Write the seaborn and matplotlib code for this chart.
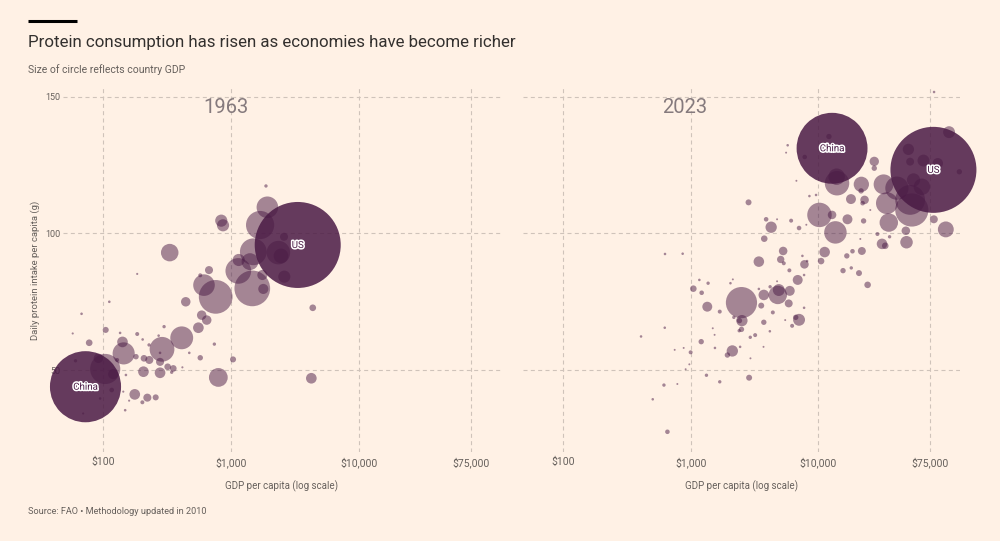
import numpy as np
import pandas as pd
import matplotlib
matplotlib.use("Agg")
import matplotlib.pyplot as plt
import seaborn as sns
from matplotlib import patheffects as pe
from matplotlib.lines import Line2D
from matplotlib.ticker import NullLocator

# ---------------- data ----------------
hl_names = ["China", "US"]

# 1963 highlighted countries
hl_gdp_pc_1963 = [73, 3319]
hl_protein_1963 = [43.9, 95.8]
hl_gdp_1963 = [445, 651]

# 2023 highlighted countries
hl_gdp_pc_2023 = [12800, 79600]
hl_protein_2023 = [131.2, 123.3]
hl_gdp_2023 = [18350, 27000]

# 1963 other countries
gdp_pc_1963 = [1875, 1923, 1687, 839, 866, 332, 1493, 2344, 2455, 2594, 1407, 1148, 1140,
               1466, 1757, 1787, 2607, 759, 615, 673, 575, 185, 443, 112, 68, 590, 646, 556,
               412, 300, 289, 741, 105, 58, 78, 136, 142, 145, 185, 204, 272, 229, 181, 209,
               230, 279, 472, 575, 1037, 796, 4240, 4350, 104, 92, 120, 117, 207, 279, 320,
               354, 344, 417, 151, 177, 222, 258, 203, 160, 149, 144, 95, 70, 61, 129, 279]
protein_1963 = [117.4, 109.6, 103.1, 104.7, 103.0, 93.0, 93.3, 93.0, 91.8, 98.8, 89.7, 90.3, 86.3,
                79.9, 84.8, 79.7, 84.2, 76.8, 81.1, 86.6, 84.7, 85.2, 75.0, 75.0, 70.6, 70.1, 68.3, 65.5,
                61.8, 65.9, 57.6, 59.5, 64.7, 63.4, 60.0, 63.6, 60.3, 56.1, 63.2, 61.2, 62.6, 59.2, 54.9, 54.3,
                53.7, 53.0, 56.3, 54.5, 53.9, 47.3, 47.0, 72.8, 50.4, 54.3, 48.5, 42.7, 49.4, 49.0, 51.2,
                50.6, 49.2, 51.0, 48.2, 41.1, 39.9, 40.0, 38.2, 38.8, 35.3, 42.1, 39.6, 34.1, 53.4, 53.7, 56.3]
gdp_1963 = [1.0, 41, 70, 13, 13, 27, 63, 49, 19, 5.7, 25, 13, 58,
            112, 9, 9, 13, 100, 41, 5.7, 1.4, 0.4, 7.9, 0.6, 0.6, 7.9, 7.9, 10,
            46, 1.0, 54, 1.0, 3.2, 0.4, 3.9, 0.6, 10, 43, 1.4, 0.6, 0.6, 1.0, 2.6, 3.9,
            5.7, 5.7, 0.6, 2.6, 3.2, 31, 10, 3.9, 80, 7.9, 9, 1.9, 10, 10, 3.9,
            3.9, 1.0, 0.4, 0.6, 10, 5.7, 3.2, 1.4, 0.4, 0.6, 0.4, 0.6, 0.4, 1.0, 1.4, 0.6]

# 2023 other countries
gdp_pc_2023 = [80500, 105500, 50700, 66500, 52300, 86100, 127000, 27400, 27400, 12100, 7820, 5750,
               5590, 14000, 13900, 21700, 32400, 41200, 52300, 53900, 34400, 55600, 64600, 18000,
               23000, 22200, 21600, 6730, 8510, 9590, 10200, 12800, 13600, 16900, 22600, 35600,
               80200, 99500, 48400, 49000, 31500, 33400, 29000, 36100, 25500, 2840, 3900, 4270,
               3770, 4750, 6120, 7060, 8050, 11200, 10500, 16700, 18500, 21900, 21300, 15600,
               18100, 20800, 24300, 5300, 5070, 5360, 3420, 7780, 7500, 8160, 5930, 7730, 6890,
               5970, 4900, 4810, 3740, 3420, 4190, 4750, 2500, 3570, 4400, 5860, 7730, 7060, 6650,
               6230, 5500, 3740, 4170, 3720, 3200, 2930, 2520, 2410, 2500, 2400, 2440, 2120, 1940,
               2940, 2870, 1690, 2180, 1350, 1050, 1220, 1370, 1170, 2050, 2140, 630, 866, 627,
               409, 1210, 1540, 1490, 1550, 1000, 882, 750, 977, 914, 1330, 1690, 618, 787, 505, 658]
protein_2023 = [151.8, 137.1, 130.8, 126.7, 126.3, 125.7, 122.6, 126.4, 123.9, 135.5, 128.0, 132.3,
                129.6, 118.4, 120.8, 118.0, 118.0, 116.6, 112.3, 108.6, 111.1, 119.6, 117.1, 112.6,
                112.3, 111.1, 115.6, 119.3, 113.7, 114.1, 106.8, 106.8, 100.4, 105.2, 104.6, 104.0,
                105.2, 101.5, 101.0, 96.8, 96.2, 95.5, 99.8, 98.8, 108.6, 111.4, 105.2, 102.3,
                98.1, 105.2, 104.7, 102.0, 103.2, 93.2, 89.9, 91.8, 93.5, 93.6, 98.0, 86.4,
                87.4, 85.5, 81.2, 93.6, 90.5, 89.1, 89.7, 88.7, 91.8, 89.9, 86.5, 84.8, 83.0,
                79.0, 79.3, 77.5, 77.5, 79.7, 80.5, 82.5, 74.7, 73.6, 71.1, 74.4, 72.8, 68.4, 69.3,
                66.2, 68.3, 67.5, 64.2, 58.5, 62.8, 62.0, 68.1, 68.1, 64.9, 64.4, 58.5, 57.0, 55.5,
                54.3, 47.2, 71.4, 69.3, 73.2, 79.8, 78.3, 81.8, 83.0, 81.8, 83.2, 92.5, 92.6, 65.5,
                62.3, 60.4, 62.9, 65.3, 58.1, 56.5, 58.1, 57.4, 52.1, 50.3, 48.1, 45.7, 44.5, 44.9, 39.3, 27.4]
gdp_2023 = [24, 518, 468, 518, 230, 405, 105, 318, 105, 105, 76, 24,
            14, 2180, 990, 854, 1440, 1970, 3240, 4010, 1740, 646, 990, 360,
            266, 76, 105, 14, 24, 24, 2180, 266, 1840, 360, 105, 1240,
            230, 920, 266, 571, 405, 157, 58, 42, 14, 130, 76, 468,
            157, 14, 58, 76, 14, 405, 157, 105, 76, 230, 14, 105,
            42, 130, 157, 266, 197, 58, 405, 266, 24, 24, 58, 24, 360,
            360, 518, 1240, 405, 24, 42, 14, 3550, 130, 58, 230, 24, 518, 105,
            58, 14, 105, 24, 14, 58, 42, 468, 105, 105, 42, 24, 468, 105,
            14, 130, 58, 42, 360, 157, 76, 42, 24, 24, 14, 24, 24, 24,
            24, 105, 14, 14, 24, 58, 14, 14, 14, 14, 42, 42, 42, 14, 24, 76]

x_ticks = [100, 1000, 10000, 75000]
x_tick_labels = ["$100", "$1,000", "$10,000", "$75,000"]
y_ticks = [50, 100, 150]

# ---------------- style ----------------
BG = "#fff1e5"
PURPLE = "#4a1a45"
GRID = "#cfc3ba"
TXT = "#66605c"
DARK = "#33302e"

sns.set_theme(style="white", rc={"axes.facecolor": BG, "figure.facecolor": BG})
plt.rcParams["font.family"] = ["Roboto", "DejaVu Sans"]

fig = plt.figure(figsize=(10, 5.41), dpi=100)
ax1 = fig.add_axes([0.063, 0.1645, 0.438, 0.673])
ax2 = fig.add_axes([0.523, 0.1645, 0.437, 0.673])

R_MAX_PX = 43
SMAX = (1.44 * R_MAX_PX) ** 2


def panel(ax, year, gpc, prot, gdp, hgpc, hprot, hgdp, show_y):
    gmax = max(hgdp)
    df = pd.DataFrame({"gdp_pc": gpc, "protein": prot, "gdp": gdp})
    hf = pd.DataFrame({"gdp_pc": hgpc, "protein": hprot, "gdp": hgdp, "name": hl_names})
    sns.scatterplot(data=df, x="gdp_pc", y="protein", size="gdp", sizes=(0, SMAX),
                    size_norm=(0, gmax), color=PURPLE, alpha=0.5, linewidth=0,
                    legend=False, ax=ax, zorder=3, clip_on=False)
    sns.scatterplot(data=hf, x="gdp_pc", y="protein", size="gdp", sizes=(0, SMAX),
                    size_norm=(0, gmax), color=PURPLE, alpha=0.85, linewidth=0,
                    legend=False, ax=ax, zorder=4, clip_on=False)
    for _, r in hf.iterrows():
        ax.text(r["gdp_pc"], r["protein"], r["name"], ha="center", va="center",
                fontsize=7, color=PURPLE, zorder=6,
                path_effects=[pe.withStroke(linewidth=2.2, foreground="white")])
    ax.set_xscale("log")
    ax.set_xlim(48.7, 128500)
    ax.set_ylim(20, 153.3)
    ax.set_xticks(x_ticks)
    ax.set_xticklabels(x_tick_labels)
    ax.xaxis.set_minor_locator(NullLocator())
    ax.set_yticks(y_ticks)
    ax.grid(True, which="major", color=GRID, lw=0.8, ls=(0, (3.6, 3)))
    ax.set_axisbelow(True)
    for s in ax.spines.values():
        s.set_visible(False)
    ax.tick_params(axis="x", length=0, labelsize=7.5, colors=TXT, pad=3.6)
    ax.tick_params(axis="y", length=0, labelsize=6.5, colors=TXT, pad=2, labelleft=show_y)
    ax.set_xlabel("GDP per capita (log scale)", fontsize=7, color=TXT)
    ax.xaxis.set_label_coords(0.5, -0.077)
    if show_y:
        ax.set_ylabel("Daily protein intake per capita (g)", fontsize=6.8, color=TXT)
        ax.yaxis.set_label_coords(-0.052, 0.5)
    else:
        ax.set_ylabel("")
    ax.text(0.371, 0.945, year, transform=ax.transAxes, ha="center", va="center",
            fontsize=14.5, color="#857a7d", zorder=2)


panel(ax1, "1963", gdp_pc_1963, protein_1963, gdp_1963,
      hl_gdp_pc_1963, hl_protein_1963, hl_gdp_1963, True)
panel(ax2, "2023", gdp_pc_2023, protein_2023, gdp_2023,
      hl_gdp_pc_2023, hl_protein_2023, hl_gdp_2023, False)

fig.add_artist(Line2D([0.028, 0.077], [1 - 20.8 / 541] * 2, color="black", lw=2.2,
                      solid_capstyle="butt"))
fig.text(0.028, 1 - 43 / 541, "Protein consumption has risen as economies have become richer",
         fontsize=12.2, color=DARK, va="center", ha="left")
fig.text(0.028, 1 - 70 / 541, "Size of circle reflects country GDP",
         fontsize=7.5, color=TXT, va="center", ha="left")
fig.text(0.028, 1 - 511 / 541, "Source: FAO \u2022 Methodology updated in 2010",
         fontsize=6.6, color=TXT, va="center", ha="left")

fig.savefig("out.png", dpi=100, facecolor=BG)
